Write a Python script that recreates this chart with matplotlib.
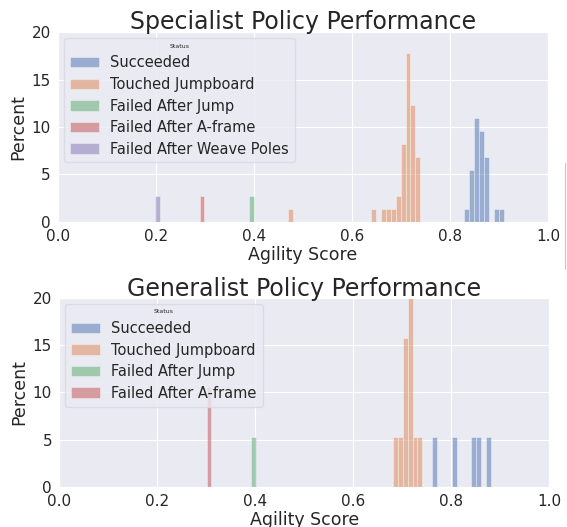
import matplotlib
matplotlib.use("Agg")
import matplotlib.pyplot as plt
import seaborn as sns

# status order and colours (seaborn "deep")
statuses = ["Succeeded", "Touched Jumpboard", "Failed After Jump",
            "Failed After A-frame", "Failed After Weave Poles"]
colors = ["#4C72B0", "#DD8452", "#55A868", "#C44E52", "#8172B3"]
bin_width = 0.01

# specialist: bin centres and percent per status
spec_succ_x = [0.834, 0.844, 0.854, 0.864, 0.874, 0.894, 0.904]
spec_succ_y = [1.37, 5.48, 10.96, 9.59, 6.85, 1.37, 1.37]
spec_jump_x = [0.474, 0.644, 0.664, 0.674, 0.684, 0.694, 0.704, 0.714, 0.724, 0.734]
spec_jump_y = [1.37, 1.37, 1.37, 1.37, 1.37, 2.74, 8.22, 17.81, 12.33, 6.85]
spec_fj_x = [0.394]
spec_fj_y = [2.74]
spec_fa_x = [0.294]
spec_fa_y = [2.74]
spec_fw_x = [0.204]
spec_fw_y = [2.74]

# generalist
gen_succ_x = [0.766, 0.806, 0.846, 0.856, 0.876]
gen_succ_y = [5.26, 5.26, 5.26, 5.26, 5.26]
gen_jump_x = [0.686, 0.696, 0.706, 0.716, 0.726, 0.736]
gen_jump_y = [5.26, 5.26, 15.79, 21.05, 5.26, 5.26]
gen_fj_x = [0.396]
gen_fj_y = [5.26]
gen_fa_x = [0.306]
gen_fa_y = [10.53]

specialist = [(spec_succ_x, spec_succ_y), (spec_jump_x, spec_jump_y),
              (spec_fj_x, spec_fj_y), (spec_fa_x, spec_fa_y),
              (spec_fw_x, spec_fw_y)]
generalist = [(gen_succ_x, gen_succ_y), (gen_jump_x, gen_jump_y),
              (gen_fj_x, gen_fj_y), (gen_fa_x, gen_fa_y)]

sns.set_style("darkgrid")
plt.rcParams["font.family"] = ["DejaVu Sans"]
plt.rcParams["text.color"] = "#262626"


def draw(ax, groups, title, title_pad):
    for (xs, ys), name, c in zip(groups, statuses, colors):
        ax.bar(xs, ys, width=bin_width, color=c, alpha=0.5,
               edgecolor="white", linewidth=0.5, label=name)
    ax.set_xlim(0, 1)
    ax.set_ylim(0, 20)
    ax.set_xticks([0.0, 0.2, 0.4, 0.6, 0.8, 1.0])
    ax.set_yticks([0, 5, 10, 15, 20])
    ax.tick_params(labelsize=11, colors="#262626", pad=1.5)
    ax.set_xlabel("Agility Score", fontsize=12.5, labelpad=1.5)
    ax.set_ylabel("Percent", fontsize=12.5, labelpad=3)
    ax.set_title(title, fontsize=17, pad=title_pad)
    leg = ax.legend(title="Status", loc="upper left", fontsize=10.5,
                    title_fontsize=4.5, borderaxespad=0.4,
                    borderpad=0.4, labelspacing=0.45)
    leg.get_frame().set_facecolor("#EAEAF2")
    leg.get_frame().set_edgecolor("#D8D8E2")


fig = plt.figure(figsize=(5.67, 5.27), dpi=100)
ax1 = fig.add_axes([0.102, 0.579, 0.865, 0.360])
ax2 = fig.add_axes([0.104, 0.076, 0.865, 0.359])
draw(ax1, specialist, "Specialist Policy Performance", 2)
draw(ax2, generalist, "Generalist Policy Performance", 1.5)

# thin grey edge line at the right of the image
fig.add_artist(plt.Line2D([0.9965, 0.9965], [0.49, 0.69], color="#C8C8C8",
                          linewidth=0.8, transform=fig.transFigure))

fig.savefig("out.png", dpi=100)
